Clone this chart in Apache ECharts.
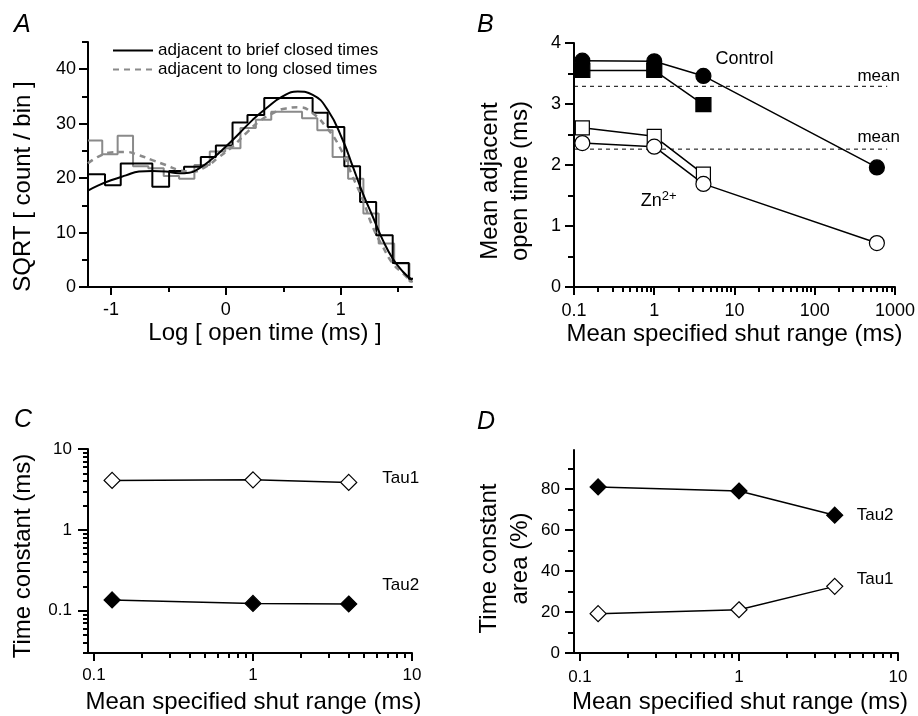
<!DOCTYPE html>
<html>
<head>
<meta charset="utf-8">
<script src="https://cdn.jsdelivr.net/npm/echarts@6.0.0/dist/echarts.min.js"></script>
<style>
html,body{margin:0;padding:0;background:#ffffff;}
#chart{width:918px;height:716px;}
</style>
</head>
<body>
<div id="chart"></div>
<script>
// ---------------- Panel A : open-time histograms ----------------
const aBriefEdges = [-1.2, -1.052, -0.915, -0.779, -0.640, -0.494, -0.364, -0.218, -0.087, 0.058, 0.188, 0.334, 0.465, 0.610, 0.755, 0.886, 1.031, 1.168, 1.308, 1.452, 1.592, 1.73];
const aBriefHist = [20.7, 18.7, 22.7, 22.7, 18.4, 21.3, 22.1, 23.9, 26.0, 30.2, 31.6, 34.7, 34.7, 34.7, 32.0, 29.4, 22.2, 15.6, 9.5, 4.4, 1.5];
const aLongEdges = [-1.2, -1.076, -0.942, -0.808, -0.675, -0.541, -0.407, -0.274, -0.140, -0.006, 0.127, 0.261, 0.395, 0.528, 0.663, 0.796, 0.929, 1.064, 1.197, 1.330, 1.465, 1.598, 1.73];
const aLongHist  = [26.9, 24.4, 27.8, 22.2, 21.8, 20.4, 19.9, 22.4, 24.9, 25.5, 29.2, 30.7, 32.2, 32.2, 31.0, 28.8, 23.9, 19.9, 13.5, 8.0, 4.3, 1.0];
const aBriefFitX = [-1.2, -1.105, -1.0, -0.87, -0.756, -0.64, -0.523, -0.407, -0.32, -0.233, -0.116, 0, 0.116, 0.233, 0.349, 0.494, 0.625, 0.756, 0.887, 1.017, 1.105, 1.192, 1.279, 1.366, 1.453, 1.541, 1.62];
const aBriefFitY = [17.7, 18.7, 19.6, 20.5, 21.2, 21.3, 21.2, 20.9, 21.0, 21.8, 23.6, 25.8, 28.2, 30.7, 32.8, 35.0, 35.9, 35.3, 32.5, 27.0, 22.1, 17.2, 12.9, 8.6, 5.2, 2.8, 1.3];
const aLongFitX = [-1.2, -1.105, -1.0, -0.87, -0.756, -0.64, -0.523, -0.407, -0.29, -0.174, -0.058, 0.058, 0.174, 0.29, 0.407, 0.523, 0.64, 0.756, 0.872, 0.988, 1.105, 1.192, 1.279, 1.366, 1.453, 1.541, 1.62];
const aLongFitY = [22.7, 24.0, 24.7, 24.8, 24.2, 23.3, 22.4, 21.5, 21.2, 22.1, 23.9, 25.8, 28.2, 30.4, 31.9, 32.8, 33.0, 31.9, 29.4, 25.8, 20.2, 16.0, 11.0, 7.4, 4.3, 2.5, 0.9];
const aXLabels = [-1, 0, 1];
const aXMinor = [-0.5, 0.5, 1.5];
const aYLabels = [0, 10, 20, 30, 40];
const aYMinor = [5, 15, 25, 35, 45];

// ---------------- Panel B : mean adjacent open time ----------------
const bShutRange = [0.127, 1, 4.1, 595];
const bControlCircle = [3.71, 3.70, 3.46, 1.96];
const bControlSquare = [3.55, 3.55, 2.99];
const bZnSquare = [2.61, 2.47, 1.85];
const bZnCircle = [2.36, 2.30, 1.69, 0.72];
const bMeans = [3.29, 2.26];
const bMeanRange = [0.1, 800];
const bXLabels = [0.1, 1, 10, 100, 1000];
const bYLabels = [0, 1, 2, 3, 4];
const bYMinor = [0.5, 1.5, 2.5, 3.5];

// ---------------- Panels C, D : time constants ----------------
const cdShutRange = [0.13, 1, 4];
const cTau1 = [4.09, 4.16, 3.86];
const cTau2 = [0.136, 0.123, 0.121];
const dTau2Area = [81.0, 79.0, 67.2];
const dTau1Area = [19.2, 21.1, 32.5];
const cdXLabels = [0.1, 1, 10];
const cYLabels = [0.1, 1, 10];
const dYLabels = [0, 20, 40, 60, 80];
const dYMinor = [10, 30, 50, 70, 90];

// ---------------------------------------------------------------
const FONT = '"Liberation Sans", Arial, Helvetica, sans-serif';
const zip = (xs, ys) => ys.map((y, i) => [xs[i], y]);
const steps = (edges, vals) => {
  const d = vals.map((v, i) => [edges[i], v]);
  d.push([edges[vals.length], vals[vals.length - 1]]);
  return d;
};
function logMinor(decades) {
  const out = [];
  decades.forEach(d => { for (let k = 2; k <= 9; k++) out.push(+(d * k).toPrecision(6)); });
  return out;
}
const fmt = v => String(+(+v).toPrecision(6));

function axisPair(dim, gridIndex, type, min, max, majorVals, minorVals, o) {
  const base = { gridIndex, type, min, max, position: dim === 'x' ? 'bottom' : 'left',
    splitLine: { show: false }, minorTick: { show: false }, minorSplitLine: { show: false } };
  const major = Object.assign({}, base, {
    axisLine: { show: true, onZero: false, lineStyle: { color: '#000', width: 2 } },
    axisTick: { show: true, customValues: majorVals, length: o.majLen, lineStyle: { color: '#000', width: 2 } },
    axisLabel: { show: true, customValues: majorVals, margin: o.margin, color: '#000', fontSize: o.fs, fontFamily: FONT, formatter: fmt },
    name: o.name, nameLocation: 'middle', nameGap: o.nameGap, nameRotate: dim === 'y' ? 90 : 0,
    nameTextStyle: { fontSize: 24, color: '#000', fontFamily: FONT, lineHeight: o.lh || 26, padding: o.pad || 0 }
  });
  const minor = Object.assign({}, base, {
    axisLine: { show: false, onZero: false },
    axisTick: { show: true, customValues: minorVals, length: o.minLen, lineStyle: { color: '#000', width: 2 } },
    axisLabel: { show: false }
  });
  return [major, minor];
}

const xAxes = [].concat(
  axisPair('x', 0, 'value', -1.2, 1.62, aXLabels, aXMinor, { majLen: 8, minLen: 5, margin: 14, fs: 18, name: 'Log [ open time (ms) ]', nameGap: 33, pad: [0, 0, 0, 30] }),
  axisPair('x', 1, 'log', 0.1, 1000, bXLabels, logMinor([0.1, 1, 10, 100]), { majLen: 8, minLen: 5, margin: 15, fs: 18, name: 'Mean specified shut range (ms)', nameGap: 34 }),
  axisPair('x', 2, 'log', 0.0917, 10, cdXLabels, logMinor([0.1, 1]), { majLen: 8, minLen: 5, margin: 14, fs: 17, name: 'Mean specified shut range (ms)', nameGap: 36, pad: [0, 0, 0, 7] }),
  axisPair('x', 3, 'log', 0.0917, 10, cdXLabels, logMinor([0.1, 1]), { majLen: 8, minLen: 5, margin: 16, fs: 17, name: 'Mean specified shut range (ms)', nameGap: 36, pad: [0, 0, 0, 8] })
);
const yAxes = [].concat(
  axisPair('y', 0, 'value', 0, 45, aYLabels, aYMinor, { majLen: 9, minLen: 6, margin: 12, fs: 18, name: 'SQRT [ count / bin ]', nameGap: 52, pad: [0, 44, 0, 0] }),
  axisPair('y', 1, 'value', 0, 4, bYLabels, bYMinor, { majLen: 9, minLen: 6, margin: 13, fs: 18, name: 'Mean adjacent\nopen time (ms)', nameGap: 39, lh: 30, pad: [0, 32, 0, 0] }),
  axisPair('y', 2, 'log', 0.03, 10, cYLabels, [0.03, 0.04, 0.05, 0.06, 0.07, 0.08, 0.09].concat(logMinor([0.1, 1])), { majLen: 10, minLen: 5, margin: 16, fs: 17, name: 'Time constant (ms)', nameGap: 52, pad: [0, 10, 0, 0] }),
  axisPair('y', 3, 'value', 0, 99, dYLabels, dYMinor, { majLen: 9, minLen: 6, margin: 14, fs: 17, name: 'Time constant\narea (%)', nameGap: 38, lh: 31, pad: [0, 14, 0, 0] })
);

const txt = (size) => ({ show: true, color: '#000', fontSize: size, fontFamily: FONT, formatter: p => p.name });
function annot(xi, yi, items, size, pos) {
  return { type: 'scatter', xAxisIndex: xi, yAxisIndex: yi, symbolSize: 0, silent: true, clip: false, z: 10,
    itemStyle: { opacity: 1 },
    label: Object.assign(txt(size), { position: pos, distance: 0 }), data: items };
}
function markerLine(xi, yi, name, data, symbol, size, filled, width) {
  return { type: 'line', name, xAxisIndex: xi, yAxisIndex: yi, data, symbol, symbolSize: size, showSymbol: true,
    lineStyle: { color: '#000', width: width || 1.5 },
    itemStyle: { color: filled ? '#000' : '#fff', borderColor: '#000', borderWidth: 1.2 }, silent: true };
}

const option = {
  animation: false,
  backgroundColor: '#fff',
  textStyle: { fontFamily: FONT },
  title: [
    { text: 'A', left: 14, top: 13 },
    { text: 'B', left: 477, top: 13 },
    { text: 'C', left: 14, top: 408 },
    { text: 'D', left: 477, top: 410 }
  ].map(t => Object.assign(t, { padding: 0, textStyle: { fontSize: 25, fontStyle: 'italic', fontWeight: 'normal', color: '#000', fontFamily: FONT } })),
  legend: {
    left: 107, top: 37, orient: 'vertical', itemWidth: 40, itemHeight: 14, itemGap: 2, selectedMode: false,
    itemStyle: { opacity: 0 },
    data: ['adjacent to brief closed times', 'adjacent to long closed times'],
    textStyle: { fontSize: 17, color: '#000', fontFamily: FONT }
  },
  grid: [
    { left: 88, top: 42, width: 324, height: 245 },
    { left: 574, top: 43, width: 324, height: 244 },
    { left: 88, top: 449, width: 324, height: 204 },
    { left: 574, top: 450, width: 324, height: 203 }
  ],
  xAxis: xAxes,
  yAxis: yAxes,
  series: [
    // Panel A
    { type: 'line', name: 'long hist', xAxisIndex: 0, yAxisIndex: 0, step: 'end', symbol: 'none', data: steps(aLongEdges, aLongHist), lineStyle: { color: '#8a8a8a', width: 2 }, silent: true },
    { type: 'line', name: 'brief hist', xAxisIndex: 0, yAxisIndex: 0, step: 'end', symbol: 'none', data: steps(aBriefEdges, aBriefHist), lineStyle: { color: '#000', width: 2 }, silent: true },
    { type: 'line', name: 'adjacent to long closed times', xAxisIndex: 0, yAxisIndex: 0, smooth: true, symbol: 'none', data: zip(aLongFitX, aLongFitY), lineStyle: { color: '#8a8a8a', width: 2.5, type: [6, 5] }, itemStyle: { color: '#8a8a8a' }, silent: true },
    { type: 'line', name: 'adjacent to brief closed times', xAxisIndex: 0, yAxisIndex: 0, smooth: true, symbol: 'none', data: zip(aBriefFitX, aBriefFitY), lineStyle: { color: '#000', width: 2 }, itemStyle: { color: '#000' }, silent: true },
    // Panel B
    { type: 'line', xAxisIndex: 2, yAxisIndex: 2, symbol: 'none', data: zip(bMeanRange, [bMeans[0], bMeans[0]]), lineStyle: { color: '#000', width: 1, type: [4, 4] }, silent: true },
    { type: 'line', xAxisIndex: 2, yAxisIndex: 2, symbol: 'none', data: zip(bMeanRange, [bMeans[1], bMeans[1]]), lineStyle: { color: '#000', width: 1, type: [4, 4] }, silent: true },
    markerLine(2, 2, 'Control square', zip(bShutRange, bControlSquare), 'rect', [15, 14], true),
    markerLine(2, 2, 'Control circle', zip(bShutRange, bControlCircle), 'circle', 15, true),
    markerLine(2, 2, 'Zn square', zip(bShutRange, bZnSquare), 'rect', [14, 14], false),
    markerLine(2, 2, 'Zn circle', zip(bShutRange, bZnCircle), 'circle', 15, false),
    annot(2, 2, [{ name: 'Control', value: [5.8, 3.73] }], 18, 'right'),
    annot(2, 2, [{ name: 'mean', value: [1000, 3.46] }, { name: 'mean', value: [1000, 2.46] }], 17, 'left'),
    Object.assign(annot(2, 2, [{ name: 'Zn', value: [0.68, 1.42] }], 17, 'right'), {
      label: { show: true, position: 'right', distance: 0, formatter: '{n|Zn}{s|2+}', rich: {
        n: { fontSize: 18, color: '#000', fontFamily: FONT, verticalAlign: 'bottom', lineHeight: 20 },
        s: { fontSize: 13, color: '#000', fontFamily: FONT, verticalAlign: 'top', lineHeight: 5 } } }
    }),
    // Panel C
    markerLine(4, 4, 'C Tau1', zip(cdShutRange, cTau1), 'diamond', 16, false),
    markerLine(4, 4, 'C Tau2', zip(cdShutRange, cTau2), 'diamond', 16, true),
    annot(4, 4, [{ name: 'Tau1', value: [6.5, 4.28] }, { name: 'Tau2', value: [6.5, 0.208] }], 17, 'right'),
    // Panel D
    markerLine(6, 6, 'D Tau2', zip(cdShutRange, dTau2Area), 'diamond', 16, true),
    markerLine(6, 6, 'D Tau1', zip(cdShutRange, dTau1Area), 'diamond', 16, false),
    annot(6, 6, [{ name: 'Tau2', value: [5.5, 67.2] }, { name: 'Tau1', value: [5.5, 36.0] }], 17, 'right')
  ]
};
// "mean" labels end just past the axis end
option.series[11].label.offset = [5, 0];

const chart = echarts.init(document.getElementById('chart'), null, { renderer: 'canvas' });
chart.setOption(option);
</script>
</body>
</html>
